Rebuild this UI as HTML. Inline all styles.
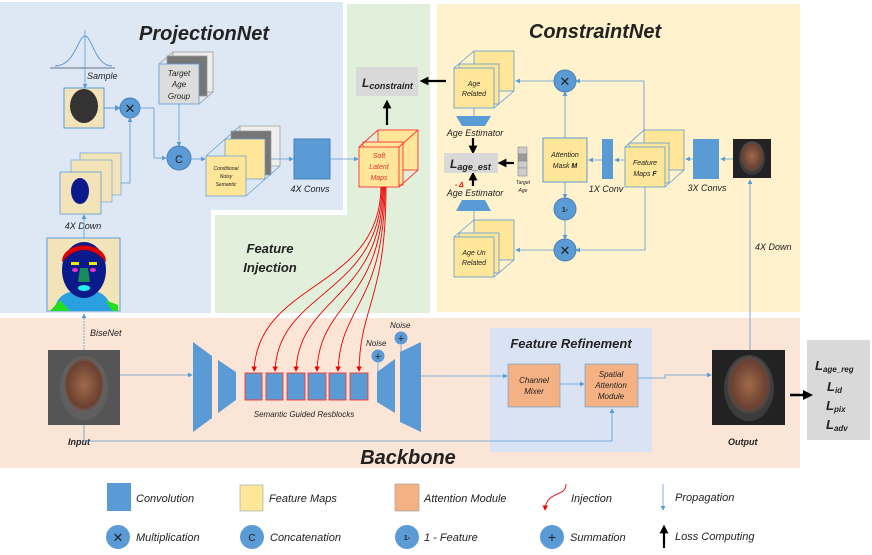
<!DOCTYPE html>
<html><head><meta charset="utf-8"><style>
html,body{margin:0;padding:0;background:#fff}
svg{display:block}
text{font-family:"Liberation Sans",sans-serif;font-style:italic;fill:#222}
.b{font-weight:bold}
</style></head><body>
<svg width="872" height="555" viewBox="0 0 872 555" xmlns="http://www.w3.org/2000/svg">
<defs>
<marker id="ab" markerWidth="6" markerHeight="6" refX="5" refY="3" orient="auto"><path d="M0,0 L6,3 L0,6z" fill="#5b9bd5"/></marker>
<marker id="ar" markerWidth="6" markerHeight="6" refX="5" refY="3" orient="auto"><path d="M0,0 L6,3 L0,6z" fill="#e00"/></marker>
<marker id="ak" markerWidth="4" markerHeight="4" refX="2" refY="2" orient="auto"><path d="M0,0 L4,2 L0,4z" fill="#000"/></marker>
<radialGradient id="fc" cx="0.5" cy="0.45" r="0.45"><stop offset="0" stop-color="#a06a4a"/><stop offset="0.8" stop-color="#6a4030"/><stop offset="1" stop-color="#777" stop-opacity="0.3"/></radialGradient>
</defs>
<path d="M0,2 H343 V210 H211 V313 H0Z" fill="#dde8f4"/>
<path d="M347,4 H430 V313 H215 V215 H347Z" fill="#e2efda"/>
<rect x="437" y="4" width="363" height="308" fill="#fff2cc"/>
<rect x="0" y="318" width="800" height="150" fill="#fbe5d6"/>
<rect x="490" y="328" width="162" height="124" fill="#dae3f3"/>
<rect x="807" y="340" width="63" height="100" fill="#d9d9d9"/>

<text x="204" y="40" class="b" font-size="20" text-anchor="middle">ProjectionNet</text>
<text x="595" y="38" class="b" font-size="20" text-anchor="middle">ConstraintNet</text>
<text x="408" y="464" class="b" font-size="20" text-anchor="middle">Backbone</text>
<text x="270" y="253" class="b" font-size="13" text-anchor="middle">Feature</text>
<text x="270" y="272" class="b" font-size="13" text-anchor="middle">Injection</text>
<text x="571" y="348" class="b" font-size="13" text-anchor="middle">Feature Refinement</text>

<line x1="50" y1="68" x2="115" y2="68" stroke="#8a9aac" stroke-width="1.5"/>
<path d="M55,66 C75,66 78,36 85,36 C92,36 95,66 112,66" fill="none" stroke="#5b9bd5"/>
<line x1="85" y1="30" x2="85" y2="88" stroke="#5b9bd5" stroke-width="0.8" marker-end="url(#ab)"/>
<text x="87" y="79" font-size="9">Sample</text>
<rect x="64" y="88" width="40" height="40" fill="#f3e3b8" stroke="#5b9bd5"/>
<ellipse cx="84" cy="106" rx="14" ry="17" fill="#333"/>
<line x1="104" y1="108" x2="120" y2="108" stroke="#5b9bd5" marker-end="url(#ab)"/>
<circle cx="130" cy="108" r="10" fill="#5b9bd5" stroke="#4a80b8"/>
<text x="130" y="113" font-size="13" text-anchor="middle" style="font-style:normal">✕</text>
<path d="M140,108 H154 V158 H166" fill="none" stroke="#5b9bd5" stroke-width="0.8" marker-end="url(#ab)"/>
<rect x="80" y="153" width="41" height="42" fill="#f3e3b8" stroke="#5b9bd5" stroke-width="0.6"/>
<rect x="71" y="160" width="41" height="42" fill="#f3e3b8" stroke="#5b9bd5" stroke-width="0.6"/>
<rect x="60" y="172" width="41" height="42" fill="#f3e3b8" stroke="#5b9bd5" stroke-width="0.8"/>
<ellipse cx="80" cy="191" rx="9" ry="13" fill="#0a1a8a"/>
<path d="M121,183 H130 V118" fill="none" stroke="#5b9bd5" stroke-width="0.8" marker-end="url(#ab)"/>
<text x="83" y="229" font-size="9" text-anchor="middle">4X Down</text>
<line x1="84" y1="238" x2="84" y2="215" stroke="#5b9bd5" stroke-width="0.8" marker-end="url(#ab)"/>
<rect x="47" y="238" width="73" height="73" fill="#f3e3b8" stroke="#5b9bd5"/>
<path d="M55,311 C55,295 70,292 70,292 L98,292 C110,296 112,311 112,311Z" fill="#2aa0e0"/>
<path d="M50,311 L60,300 L70,311Z M105,300 L112,311 H118 V305Z" fill="#22dd22"/>
<ellipse cx="84" cy="270" rx="22" ry="28" fill="#0a1a8a"/>
<path d="M62,262 C62,240 106,240 106,262 L100,256 C90,248 78,248 68,256Z" fill="#d00"/>
<rect x="71" y="262" width="8" height="3" fill="#ee0"/><rect x="89" y="262" width="8" height="3" fill="#ee0"/>
<ellipse cx="75" cy="270" rx="3" ry="2" fill="#e3c"/><ellipse cx="93" cy="270" rx="3" ry="2" fill="#e3c"/>
<path d="M80,268 L88,268 L90,282 L78,282Z" fill="#1a8a5a"/>
<ellipse cx="84" cy="288" rx="6" ry="3" fill="#2ee"/>
<g stroke="#999" stroke-width="0.8">
<rect x="173" y="52" width="40" height="40" fill="#eee"/>
<rect x="167" y="56" width="40" height="40" fill="#777"/>
<rect x="159" y="64" width="40" height="40" fill="#ddd" stroke="#5b9bd5"/>
<line x1="159" y1="64" x2="173" y2="52"/><line x1="199" y1="104" x2="213" y2="92"/>
</g>
<text x="179" y="76" font-size="8" text-anchor="middle">Target</text>
<text x="179" y="87" font-size="8" text-anchor="middle">Age</text>
<text x="179" y="99" font-size="8" text-anchor="middle">Group</text>
<line x1="179" y1="104" x2="179" y2="146" stroke="#5b9bd5" stroke-width="0.8" marker-end="url(#ab)"/>
<circle cx="179" cy="158" r="12" fill="#5b9bd5" stroke="#4a80b8"/>
<text x="179" y="163" font-size="11" text-anchor="middle" style="font-style:normal">C</text>
<line x1="191" y1="159" x2="205" y2="159" stroke="#5b9bd5" stroke-width="0.8" marker-end="url(#ab)"/>
<g stroke="#5b9bd5" stroke-width="0.7">
<rect x="240" y="126" width="40" height="40" fill="#eee" stroke="#999"/>
<rect x="231" y="131" width="40" height="44" fill="#777" stroke="#999"/>
<rect x="225" y="139" width="40" height="40" fill="#ffe699"/>
<rect x="206" y="156" width="40" height="40" fill="#ffe699"/>
<line x1="206" y1="156" x2="240" y2="126"/><line x1="246" y1="196" x2="280" y2="166"/>
</g>
<text x="226" y="170" font-size="5" text-anchor="middle">Conditional</text>
<text x="226" y="178" font-size="5" text-anchor="middle">Noisy</text>
<text x="226" y="186" font-size="5" text-anchor="middle">Semantic</text>
<line x1="270" y1="159" x2="293" y2="159" stroke="#5b9bd5" stroke-width="0.8" marker-end="url(#ab)"/>
<rect x="294" y="139" width="36" height="40" fill="#5b9bd5" stroke="#4a80b8"/>
<text x="310" y="192" font-size="9" text-anchor="middle">4X Convs</text>
<line x1="330" y1="159" x2="358" y2="159" stroke="#5b9bd5" stroke-width="0.8" marker-end="url(#ab)"/>
<g stroke="#f33" stroke-width="0.9" fill="#ffe699">
<rect x="378" y="130" width="40" height="40"/>
<rect x="363" y="142" width="40" height="43"/>
<rect x="359" y="147" width="40" height="40"/>
<line x1="359" y1="147" x2="378" y2="130"/><line x1="399" y1="187" x2="418" y2="170"/><line x1="399" y1="147" x2="418" y2="130"/>
</g>
<text x="379" y="158" font-size="7" text-anchor="middle" style="fill:#e33">Soft</text>
<text x="379" y="169" font-size="7" text-anchor="middle" style="fill:#e33">Latent</text>
<text x="379" y="180" font-size="7" text-anchor="middle" style="fill:#e33">Maps</text>
<rect x="356" y="67" width="62" height="29" fill="#d9d9d9"/>
<text x="362" y="87" class="b" font-size="12">L<tspan font-size="9" dy="2">constraint</tspan></text>
<line x1="387" y1="125" x2="387" y2="104" stroke="#000" stroke-width="2.2" marker-end="url(#ak)"/>
<line x1="446" y1="81" x2="424" y2="81" stroke="#000" stroke-width="2.2" marker-end="url(#ak)"/>

<g fill="none" stroke="#e00" stroke-width="0.9">
<path d="M381,187 C380,290 258,280 254,371" marker-end="url(#ar)"/>
<path d="M382,187 C381,295 278,290 275,371" marker-end="url(#ar)"/>
<path d="M383,187 C382,300 299,295 296,371" marker-end="url(#ar)"/>
<path d="M384,187 C383,305 319,300 317,371" marker-end="url(#ar)"/>
<path d="M385,187 C384,305 340,305 338,371" marker-end="url(#ar)"/>
<path d="M386,187 C386,300 360,305 359,371" marker-end="url(#ar)"/>
</g>

<g stroke="#5b9bd5" stroke-width="0.8" fill="#ffe699">
<rect x="474" y="51" width="40" height="40"/><rect x="459" y="64" width="40" height="40"/><rect x="454" y="68" width="40" height="40"/>
<line x1="454" y1="68" x2="474" y2="51"/><line x1="494" y1="108" x2="514" y2="91"/>
<rect x="474" y="220" width="40" height="40"/><rect x="459" y="233" width="40" height="40"/><rect x="454" y="237" width="40" height="40"/>
<line x1="454" y1="237" x2="474" y2="220"/><line x1="494" y1="277" x2="514" y2="260"/>
</g>
<text x="474" y="86" font-size="7" text-anchor="middle">Age</text>
<text x="474" y="96" font-size="7" text-anchor="middle">Related</text>
<text x="474" y="255" font-size="7" text-anchor="middle">Age Un</text>
<text x="474" y="265" font-size="7" text-anchor="middle">Related</text>
<path d="M456,116 H491 L485,126 H462Z" fill="#5b9bd5"/>
<path d="M462,200 H485 L491,211 H456Z" fill="#5b9bd5"/>
<line x1="474" y1="108" x2="474" y2="116" stroke="#5b9bd5" stroke-width="0.8"/>
<line x1="474" y1="220" x2="474" y2="211" stroke="#5b9bd5" stroke-width="0.8"/>
<text x="475" y="136" font-size="9" text-anchor="middle">Age Estimator</text>
<text x="475" y="196" font-size="9" text-anchor="middle">Age Estimator</text>
<line x1="473" y1="138" x2="473" y2="150" stroke="#000" stroke-width="2.2" marker-end="url(#ak)"/>
<line x1="473" y1="186" x2="473" y2="176" stroke="#000" stroke-width="2.2" marker-end="url(#ak)"/>
<text x="455" y="187" font-size="7" class="b" style="fill:#e00">- Δ</text>
<rect x="444" y="153" width="54" height="20" fill="#d9d9d9"/>
<text x="450" y="168" class="b" font-size="12">L<tspan font-size="9" dy="2">age_est</tspan></text>
<line x1="514" y1="163" x2="502" y2="163" stroke="#000" stroke-width="2.2" marker-end="url(#ak)"/>
<g fill="#ccc" stroke="#888" stroke-width="0.6">
<rect x="518" y="147" width="9" height="7"/><rect x="518" y="154" width="9" height="7" fill="#999"/><rect x="518" y="161" width="9" height="7"/><rect x="518" y="168" width="9" height="8"/>
</g>
<text x="523" y="184" font-size="5" text-anchor="middle">Target</text>
<text x="523" y="192" font-size="5" text-anchor="middle">Age</text>
<g stroke="#5b9bd5" stroke-width="0.8" fill="none">
<path d="M644,130 V81 H576" marker-end="url(#ab)"/>
<line x1="555" y1="81" x2="516" y2="81" marker-end="url(#ab)"/>
<line x1="565" y1="138" x2="565" y2="92" marker-end="url(#ab)"/>
<line x1="565" y1="182" x2="565" y2="198" marker-end="url(#ab)"/>
<line x1="565" y1="220" x2="565" y2="239" marker-end="url(#ab)"/>
<path d="M645,187 V250 H576" marker-end="url(#ab)"/>
<line x1="555" y1="250" x2="516" y2="250" marker-end="url(#ab)"/>
<line x1="602" y1="160" x2="589" y2="160" marker-end="url(#ab)"/>
<line x1="625" y1="160" x2="615" y2="160" marker-end="url(#ab)"/>
<line x1="693" y1="159" x2="686" y2="159" marker-end="url(#ab)"/>
<line x1="733" y1="159" x2="721" y2="159" marker-end="url(#ab)"/>
<line x1="750" y1="350" x2="750" y2="180" marker-end="url(#ab)"/>
</g>
<circle cx="565" cy="81" r="11" fill="#5b9bd5" stroke="#4a80b8"/><text x="565" y="86" font-size="13" text-anchor="middle" style="font-style:normal">✕</text>
<circle cx="565" cy="250" r="11" fill="#5b9bd5" stroke="#4a80b8"/><text x="565" y="255" font-size="13" text-anchor="middle" style="font-style:normal">✕</text>
<circle cx="565" cy="209" r="11" fill="#5b9bd5" stroke="#4a80b8"/><text x="565" y="212" font-size="7" class="b" text-anchor="middle" style="font-style:normal">1-</text>
<rect x="543" y="138" width="44" height="44" fill="#ffe699" stroke="#5b9bd5"/>
<text x="565" y="157" font-size="7" text-anchor="middle">Attention</text>
<text x="565" y="168" font-size="7" text-anchor="middle">Mask <tspan class="b">M</tspan></text>
<rect x="602" y="139" width="11" height="40" fill="#5b9bd5"/>
<text x="606" y="192" font-size="9" text-anchor="middle">1X Conv</text>
<g stroke="#5b9bd5" stroke-width="0.8" fill="#ffe699">
<rect x="644" y="130" width="40" height="40"/><rect x="629" y="143" width="40" height="40"/><rect x="625" y="147" width="40" height="40"/>
<line x1="625" y1="147" x2="644" y2="130"/><line x1="665" y1="187" x2="684" y2="170"/>
</g>
<text x="645" y="165" font-size="7" text-anchor="middle">Feature</text>
<text x="645" y="176" font-size="7" text-anchor="middle">Maps <tspan class="b">F</tspan></text>
<rect x="693" y="139" width="26" height="40" fill="#5b9bd5"/>
<text x="707" y="191" font-size="9" text-anchor="middle">3X Convs</text>
<rect x="733" y="139" width="38" height="39" fill="#222"/>
<ellipse cx="752" cy="158" rx="13" ry="17" fill="url(#fc)"/>
<text x="755" y="250" font-size="9">4X Down</text>

<line x1="84" y1="350" x2="84" y2="314" stroke="#5b9bd5" stroke-width="0.8" stroke-dasharray="2,1" marker-end="url(#ab)"/>
<text x="90" y="336" font-size="9">BiseNet</text>
<rect x="48" y="350" width="72" height="75" fill="#555"/>
<ellipse cx="84" cy="388" rx="24" ry="32" fill="url(#fc)"/>
<text x="68" y="445" class="b" font-size="9">Input</text>
<line x1="120" y1="375" x2="192" y2="375" stroke="#5b9bd5" stroke-width="0.8" marker-end="url(#ab)"/>
<path d="M84,425 V441 H612 V409" fill="none" stroke="#5b9bd5" stroke-width="0.8" marker-end="url(#ab)"/>
<path d="M193,342 L212,356 L212,418 L193,432Z" fill="#5b9bd5"/>
<path d="M218,360 L236,372 L236,400 L218,413Z" fill="#5b9bd5"/>
<g fill="#5b9bd5" stroke="#f33" stroke-width="0.9">
<rect x="245" y="373" width="17" height="27"/><rect x="266" y="373" width="17" height="27"/><rect x="287" y="373" width="18" height="27"/>
<rect x="308" y="373" width="18" height="27"/><rect x="329" y="373" width="17" height="27"/><rect x="350" y="373" width="18" height="27"/>
</g>
<text x="304" y="417" font-size="8" text-anchor="middle">Semantic Guided Resblocks</text>
<path d="M377,372 L395,359 L395,413 L377,402Z" fill="#5b9bd5"/>
<path d="M400,352 L421,342 L421,432 L400,422Z" fill="#5b9bd5"/>
<circle cx="378" cy="356" r="6.5" fill="#5b9bd5"/><text x="378" y="360" font-size="11" text-anchor="middle" style="font-style:normal">+</text>
<circle cx="401" cy="338" r="6.5" fill="#5b9bd5"/><text x="401" y="342" font-size="11" text-anchor="middle" style="font-style:normal">+</text>
<line x1="378" y1="363" x2="378" y2="372" stroke="#5b9bd5" stroke-width="0.8"/>
<line x1="401" y1="345" x2="401" y2="352" stroke="#5b9bd5" stroke-width="0.8"/>
<text x="366" y="346" font-size="8">Noise</text>
<text x="390" y="328" font-size="8">Noise</text>
<line x1="421" y1="376" x2="507" y2="376" stroke="#5b9bd5" stroke-width="0.8" marker-end="url(#ab)"/>
<rect x="508" y="364" width="52" height="43" fill="#f4b183" stroke="#5b9bd5" stroke-width="0.6"/>
<text x="534" y="383" font-size="8" text-anchor="middle">Channel</text>
<text x="534" y="394" font-size="8" text-anchor="middle">Mixer</text>
<line x1="560" y1="384" x2="584" y2="384" stroke="#5b9bd5" stroke-width="0.8" marker-end="url(#ab)"/>
<rect x="585" y="364" width="53" height="43" fill="#f4b183" stroke="#5b9bd5" stroke-width="0.6"/>
<text x="611" y="377" font-size="8" text-anchor="middle">Spatial</text>
<text x="611" y="388" font-size="8" text-anchor="middle">Attention</text>
<text x="611" y="399" font-size="8" text-anchor="middle">Module</text>
<path d="M638,378 H665 V375 H711" fill="none" stroke="#5b9bd5" stroke-width="0.8" marker-end="url(#ab)"/>
<rect x="712" y="350" width="73" height="75" fill="#222"/>
<ellipse cx="749" cy="388" rx="25" ry="33" fill="url(#fc)"/>
<text x="728" y="445" class="b" font-size="9">Output</text>
<line x1="790" y1="395" x2="808" y2="395" stroke="#000" stroke-width="2.5" marker-end="url(#ak)"/>
<text x="815" y="370" class="b" font-size="13">L<tspan font-size="8" dy="2">age_reg</tspan></text>
<text x="827" y="391" class="b" font-size="13">L<tspan font-size="8" dy="2">id</tspan></text>
<text x="826" y="410" class="b" font-size="13">L<tspan font-size="8" dy="2">pix</tspan></text>
<text x="826" y="429" class="b" font-size="13">L<tspan font-size="8" dy="2">adv</tspan></text>

<rect x="107" y="483" width="24" height="28" fill="#5b9bd5"/>
<text x="136" y="502" font-size="11">Convolution</text>
<rect x="240" y="485" width="23" height="26" fill="#ffe699" stroke="#8aa" stroke-width="0.6"/>
<text x="269" y="502" font-size="11">Feature Maps</text>
<rect x="395" y="484" width="24" height="27" fill="#f4b183" stroke="#999" stroke-width="0.6"/>
<text x="424" y="502" font-size="11">Attention Module</text>
<path d="M566,484 C566,498 546,490 545,510" fill="none" stroke="#e00" stroke-width="0.9" marker-end="url(#ar)"/>
<text x="571" y="502" font-size="11">Injection</text>
<line x1="663" y1="484" x2="663" y2="510" stroke="#5b9bd5" stroke-width="0.8" marker-end="url(#ab)"/>
<text x="675" y="501" font-size="11">Propagation</text>
<circle cx="118" cy="537" r="12" fill="#5b9bd5"/><text x="118" y="542" font-size="13" text-anchor="middle" style="font-style:normal">✕</text>
<text x="136" y="541" font-size="11">Multiplication</text>
<circle cx="252" cy="537" r="12" fill="#5b9bd5"/><text x="252" y="541" font-size="10" text-anchor="middle" style="font-style:normal">C</text>
<text x="270" y="541" font-size="11">Concatenation</text>
<circle cx="407" cy="537" r="12" fill="#5b9bd5"/><text x="407" y="540" font-size="7" class="b" text-anchor="middle" style="font-style:normal">1-</text>
<text x="424" y="541" font-size="11">1 - Feature</text>
<circle cx="552" cy="537" r="12" fill="#5b9bd5"/><text x="552" y="542" font-size="14" text-anchor="middle" style="font-style:normal">+</text>
<text x="570" y="541" font-size="11">Summation</text>
<line x1="664" y1="548" x2="664" y2="529" stroke="#000" stroke-width="2.2" marker-end="url(#ak)"/>
<text x="675" y="540" font-size="11">Loss Computing</text>
</svg>
</body></html>
